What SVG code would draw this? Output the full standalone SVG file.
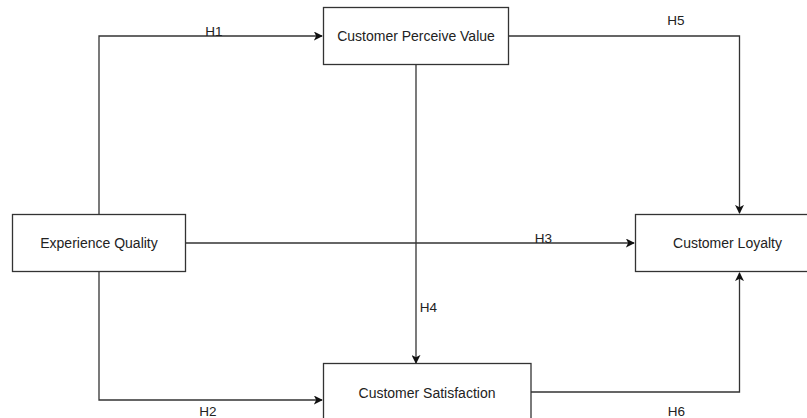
<svg xmlns="http://www.w3.org/2000/svg" width="807" height="418" viewBox="0 0 807 418">
<defs>
<style>
.box{fill:#fff;stroke:#333;stroke-width:1.3}
.lbl{font-family:"Liberation Sans",Arial,sans-serif;font-size:14px;fill:#222;text-anchor:middle}
.h{font-size:13.5px}
.edge{fill:none;stroke:#333;stroke-width:1.3}
</style>
<marker id="arr" viewBox="0 0 10 10" refX="9" refY="5" markerWidth="9" markerHeight="9" markerUnits="userSpaceOnUse" orient="auto">
<path d="M0,0 L10,5 L0,10 L2.5,5 Z" fill="#111"/>
</marker>
</defs>
<rect width="807" height="418" fill="#fff"/>
<g id="connectors">
<path class="edge" d="M99,214 V36 H322" marker-end="url(#arr)"/>
<path class="edge" d="M99,272 V400 H322" marker-end="url(#arr)"/>
<path class="edge" d="M186,243 H634" marker-end="url(#arr)"/>
<path class="edge" d="M416,65 V363" marker-end="url(#arr)"/>
<path class="edge" d="M509,36 H739.5 V213" marker-end="url(#arr)"/>
<path class="edge" d="M531,392 H739.5 V273" marker-end="url(#arr)"/>
<text class="lbl h" x="214" y="35.5">H1</text>
<text class="lbl h" x="208" y="416">H2</text>
<text class="lbl h" x="543.5" y="243">H3</text>
<text class="lbl h" x="428.5" y="311.5">H4</text>
<text class="lbl h" x="676" y="24.5">H5</text>
<text class="lbl h" x="676.5" y="416">H6</text>
</g>
<g id="cpv">
<rect class="box" x="323.5" y="7.5" width="185" height="57"/>
<text class="lbl" x="416" y="41">Customer Perceive Value</text>
</g>
<g id="eq">
<rect class="box" x="12.5" y="214.5" width="173" height="57"/>
<text class="lbl" x="99" y="248">Experience Quality</text>
</g>
<g id="cl">
<rect class="box" x="635.5" y="214.5" width="186" height="57"/>
<text class="lbl" x="727.5" y="248">Customer Loyalty</text>
</g>
<g id="cs">
<rect class="box" x="323.5" y="363.5" width="207.5" height="57"/>
<text class="lbl" x="427" y="398">Customer Satisfaction</text>
</g>
</svg>
